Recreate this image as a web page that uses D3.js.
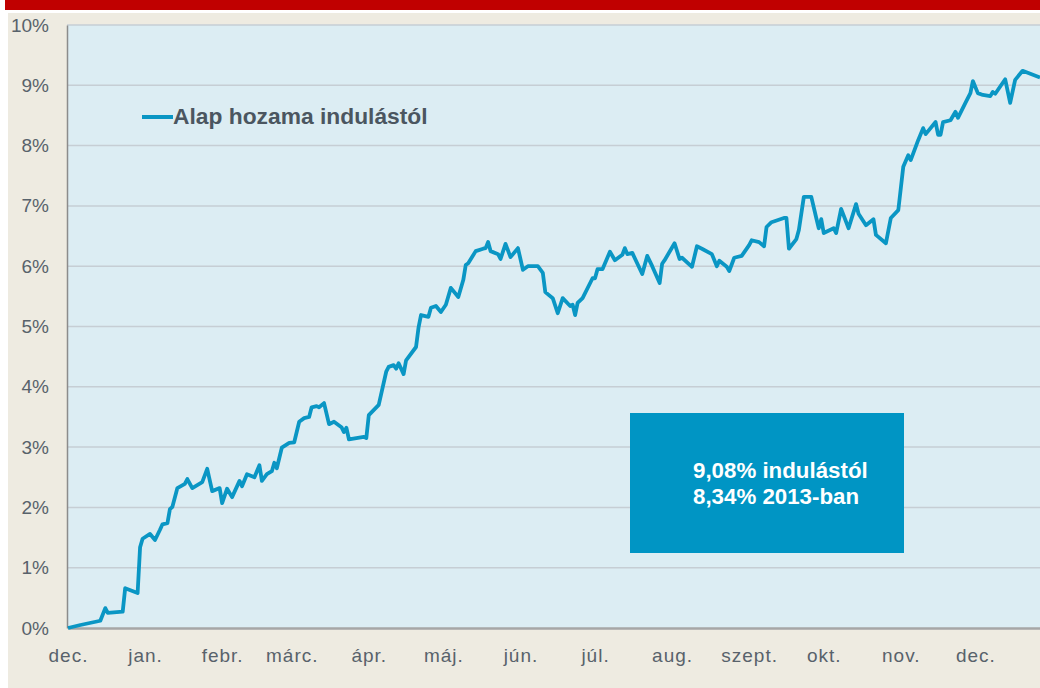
<!DOCTYPE html>
<html lang="hu">

<head>
    <meta charset="UTF-8">
    <title>Alap hozama</title>
    <script src="https://cdn.jsdelivr.net/npm/d3@7"></script>
    <style>
        * {
            margin: 0;
        }

        body {
            background: #fff;
            font-family: "Liberation Sans", Arial, sans-serif;
        }
    </style>
</head>

<body>
    <svg id="chart" width="1040" height="688"></svg>
    <script>
        // dátumok és hozam (%)
        var dates = [
            "2012-12-01", "2012-12-06", "2012-12-14", "2012-12-16", "2012-12-17", "2012-12-23", "2012-12-24", "2012-12-29", "2012-12-30", "2012-12-31",
            "2013-01-03", "2013-01-05", "2013-01-07", "2013-01-08", "2013-01-10", "2013-01-11", "2013-01-12", "2013-01-14", "2013-01-17", "2013-01-18", "2013-01-20", "2013-01-24", "2013-01-26", "2013-01-28", "2013-01-31",
            "2013-02-01", "2013-02-03", "2013-02-05", "2013-02-08", "2013-02-09", "2013-02-11", "2013-02-14", "2013-02-16", "2013-02-17", "2013-02-19", "2013-02-21", "2013-02-22", "2013-02-23", "2013-02-25", "2013-02-28",
            "2013-03-02", "2013-03-04", "2013-03-06", "2013-03-08", "2013-03-09", "2013-03-11", "2013-03-12", "2013-03-14", "2013-03-16", "2013-03-18", "2013-03-21", "2013-03-22", "2013-03-23", "2013-03-24", "2013-03-30", "2013-03-31",
            "2013-04-01", "2013-04-05", "2013-04-08", "2013-04-09", "2013-04-11", "2013-04-12", "2013-04-13", "2013-04-15", "2013-04-16", "2013-04-20", "2013-04-21", "2013-04-22", "2013-04-25", "2013-04-26", "2013-04-28", "2013-04-30",
            "2013-05-02", "2013-05-04", "2013-05-07", "2013-05-09", "2013-05-10", "2013-05-11", "2013-05-14", "2013-05-17", "2013-05-18", "2013-05-19", "2013-05-20", "2013-05-23", "2013-05-24", "2013-05-26", "2013-05-28", "2013-05-31",
            "2013-06-02", "2013-06-04", "2013-06-08", "2013-06-10", "2013-06-11", "2013-06-14", "2013-06-16", "2013-06-18", "2013-06-21", "2013-06-22", "2013-06-23", "2013-06-24", "2013-06-26", "2013-06-30",
            "2013-07-01", "2013-07-02", "2013-07-04", "2013-07-07", "2013-07-09", "2013-07-12", "2013-07-13", "2013-07-14", "2013-07-16", "2013-07-20", "2013-07-22", "2013-07-24", "2013-07-27", "2013-07-28", "2013-07-29",
            "2013-08-02", "2013-08-04", "2013-08-05", "2013-08-09", "2013-08-11", "2013-08-13", "2013-08-17", "2013-08-19", "2013-08-20", "2013-08-23", "2013-08-24", "2013-08-26", "2013-08-29",
            "2013-09-01", "2013-09-02", "2013-09-05", "2013-09-07", "2013-09-08", "2013-09-10", "2013-09-15", "2013-09-16", "2013-09-17", "2013-09-20", "2013-09-21", "2013-09-23", "2013-09-26", "2013-09-28", "2013-09-29", "2013-09-30",
            "2013-10-01", "2013-10-05", "2013-10-06", "2013-10-08", "2013-10-11", "2013-10-14", "2013-10-15", "2013-10-18", "2013-10-21", "2013-10-22", "2013-10-26", "2013-10-28", "2013-10-31",
            "2013-11-02", "2013-11-04", "2013-11-05", "2013-11-08", "2013-11-10", "2013-11-11", "2013-11-15", "2013-11-16", "2013-11-17", "2013-11-18", "2013-11-21", "2013-11-23", "2013-11-24", "2013-11-27", "2013-11-29", "2013-11-30",
            "2013-12-02", "2013-12-04", "2013-12-07", "2013-12-08", "2013-12-09", "2013-12-13", "2013-12-15", "2013-12-17", "2013-12-20", "2013-12-27"
        ];

        var returns = [
            0.00, 0.05, 0.12, 0.33, 0.25, 0.27, 0.66, 0.58, 1.34, 1.48,
            1.56, 1.46, 1.63, 1.72, 1.74, 1.97, 2.01, 2.32, 2.39, 2.47, 2.32, 2.42, 2.64, 2.27, 2.32,
            2.07, 2.31, 2.17, 2.44, 2.35, 2.55, 2.50, 2.70, 2.44, 2.55, 2.60, 2.74, 2.65, 2.99, 3.07,
            3.08, 3.42, 3.48, 3.50, 3.66, 3.68, 3.66, 3.73, 3.38, 3.42, 3.33, 3.25, 3.32, 3.13, 3.17, 3.15,
            3.53, 3.70, 4.25, 4.33, 4.36, 4.30, 4.39, 4.21, 4.44, 4.66, 4.98, 5.19, 5.16, 5.31, 5.34, 5.24,
            5.36, 5.64, 5.49, 5.77, 6.02, 6.05, 6.25, 6.29, 6.30, 6.40, 6.25, 6.20, 6.12, 6.37, 6.15, 6.30,
            5.94, 6.00, 6.00, 5.89, 5.57, 5.47, 5.22, 5.47, 5.34, 5.36, 5.19, 5.39, 5.47, 5.80,
            5.80, 5.95, 5.95, 6.24, 6.10, 6.19, 6.30, 6.20, 6.22, 5.87, 6.17, 6.00, 5.72, 6.04, 6.10,
            6.38, 6.12, 6.14, 5.99, 6.33, 6.29, 6.20, 6.00, 6.09, 5.99, 5.92, 6.14, 6.17,
            6.35, 6.43, 6.40, 6.33, 6.65, 6.73, 6.80, 6.80, 6.29, 6.45, 6.60, 7.15, 7.15, 6.80, 6.63, 6.78,
            6.55, 6.63, 6.55, 6.95, 6.63, 7.03, 6.87, 6.68, 6.78, 6.52, 6.38, 6.80, 6.93,
            7.65, 7.84, 7.76, 8.09, 8.29, 8.19, 8.39, 8.18, 8.18, 8.39, 8.42, 8.56, 8.46, 8.71, 8.87, 9.07,
            8.87, 8.84, 8.82, 8.89, 8.86, 9.10, 8.71, 9.09, 9.24, 9.13
        ];

        // tengely feliratok
        var monthLabels = ["dec.", "jan.", "febr.", "márc.", "ápr.", "máj.", "jún.", "júl.", "aug.", "szept.", "okt.", "nov.", "dec."];
        var yTicks = [0, 1, 2, 3, 4, 5, 6, 7, 8, 9, 10];
        var legendLabel = "Alap hozama indulástól";
        var boxLines = ["9,08% indulástól", "8,34% 2013-ban"];

        var parse = d3.timeParse("%Y-%m-%d");
        var data = dates.map(function (d, i) {
            return { date: parse(d), value: returns[i] };
        });

        var svg = d3.select("#chart");
        // (a "top" név foglalt a window-on, ezért plotTop)
        var plotLeft = 67, plotRight = 1040, plotTop = 25, plotBottom = 628;

        // keret: piros csík + bézs háttér
        svg.append("rect").attr("x", 5).attr("y", 0).attr("width", 1035).attr("height", 10).attr("fill", "#c00000");
        svg.append("rect").attr("x", 8).attr("y", 13).attr("width", 1032).attr("height", 675).attr("fill", "#eeebe1");
        svg.append("rect").attr("x", plotLeft).attr("y", plotTop).attr("width", plotRight - plotLeft).attr("height", plotBottom - plotTop).attr("fill", "#dcedf3");

        var x = d3.scaleTime()
            .domain([parse("2012-12-01"), parse("2013-12-27")])
            .range([68, 1040]);

        var y = d3.scaleLinear()
            .domain([0, 10])
            .range([plotBottom, plotTop]);

        // rácsvonalak
        svg.append("g")
            .selectAll("line")
            .data(yTicks.slice(1))
            .enter()
            .append("line")
            .attr("x1", plotLeft)
            .attr("x2", plotRight)
            .attr("y1", function (d) { return y(d); })
            .attr("y2", function (d) { return y(d); })
            .attr("stroke", "#c6ced4")
            .attr("stroke-width", 1.5);

        // y tengely
        var yAxis = svg.append("g")
            .attr("transform", "translate(" + plotLeft + ",0)")
            .call(d3.axisLeft(y).tickValues(yTicks).tickSize(0).tickPadding(18).tickFormat(function (d) { return d + "%"; }));
        yAxis.select(".domain").attr("stroke", "#8c8c8c").attr("stroke-width", 1.5);
        yAxis.selectAll("text")
            .attr("fill", "#58626b")
            .style("font-size", "19px")
            .style("font-family", "Liberation Sans, Arial, sans-serif");

        // x tengely, hónapok elején
        var months = d3.timeMonth.range(parse("2012-12-01"), parse("2013-12-02"));
        var xAxis = svg.append("g")
            .attr("transform", "translate(0," + plotBottom + ")")
            .call(d3.axisBottom(x).tickValues(months).tickSize(0).tickPadding(21).tickFormat(function (d, i) { return monthLabels[i]; }));
        xAxis.select(".domain").attr("stroke", "#a6a6a6").attr("stroke-width", 2.5);
        xAxis.selectAll("text")
            .attr("fill", "#58626b")
            .style("font-size", "19px")
            .style("letter-spacing", "1px")
            .style("font-family", "Liberation Sans, Arial, sans-serif");

        // vonal
        svg.append("clipPath").attr("id", "clip")
            .append("rect").attr("x", plotLeft).attr("y", 0).attr("width", plotRight - plotLeft).attr("height", plotBottom + 4);

        var line = d3.line()
            .x(function (d) { return x(d.date); })
            .y(function (d) { return y(d.value); });

        svg.append("path")
            .datum(data)
            .attr("clip-path", "url(#clip)")
            .attr("fill", "none")
            .attr("stroke", "#0a96c4")
            .attr("stroke-width", 3.8)
            .attr("stroke-linejoin", "round")
            .attr("d", line);

        // jelmagyarázat
        svg.append("line")
            .attr("x1", 142).attr("x2", 173)
            .attr("y1", 117).attr("y2", 117)
            .attr("stroke", "#0a96c4")
            .attr("stroke-width", 4);
        svg.append("text")
            .attr("x", 173).attr("y", 124)
            .attr("fill", "#4b5660")
            .style("font-size", "22.8px")
            .style("font-weight", "bold")
            .text(legendLabel);

        // kiemelt doboz
        svg.append("rect")
            .attr("x", 630).attr("y", 413)
            .attr("width", 274).attr("height", 140)
            .attr("fill", "#0095c4");
        svg.append("g")
            .selectAll("text")
            .data(boxLines)
            .enter()
            .append("text")
            .attr("x", 693)
            .attr("y", function (d, i) { return 478 + i * 26; })
            .attr("fill", "#fff")
            .style("font-size", "22.3px")
            .style("font-weight", "bold")
            .text(function (d) { return d; });
    </script>
</body>

</html>
